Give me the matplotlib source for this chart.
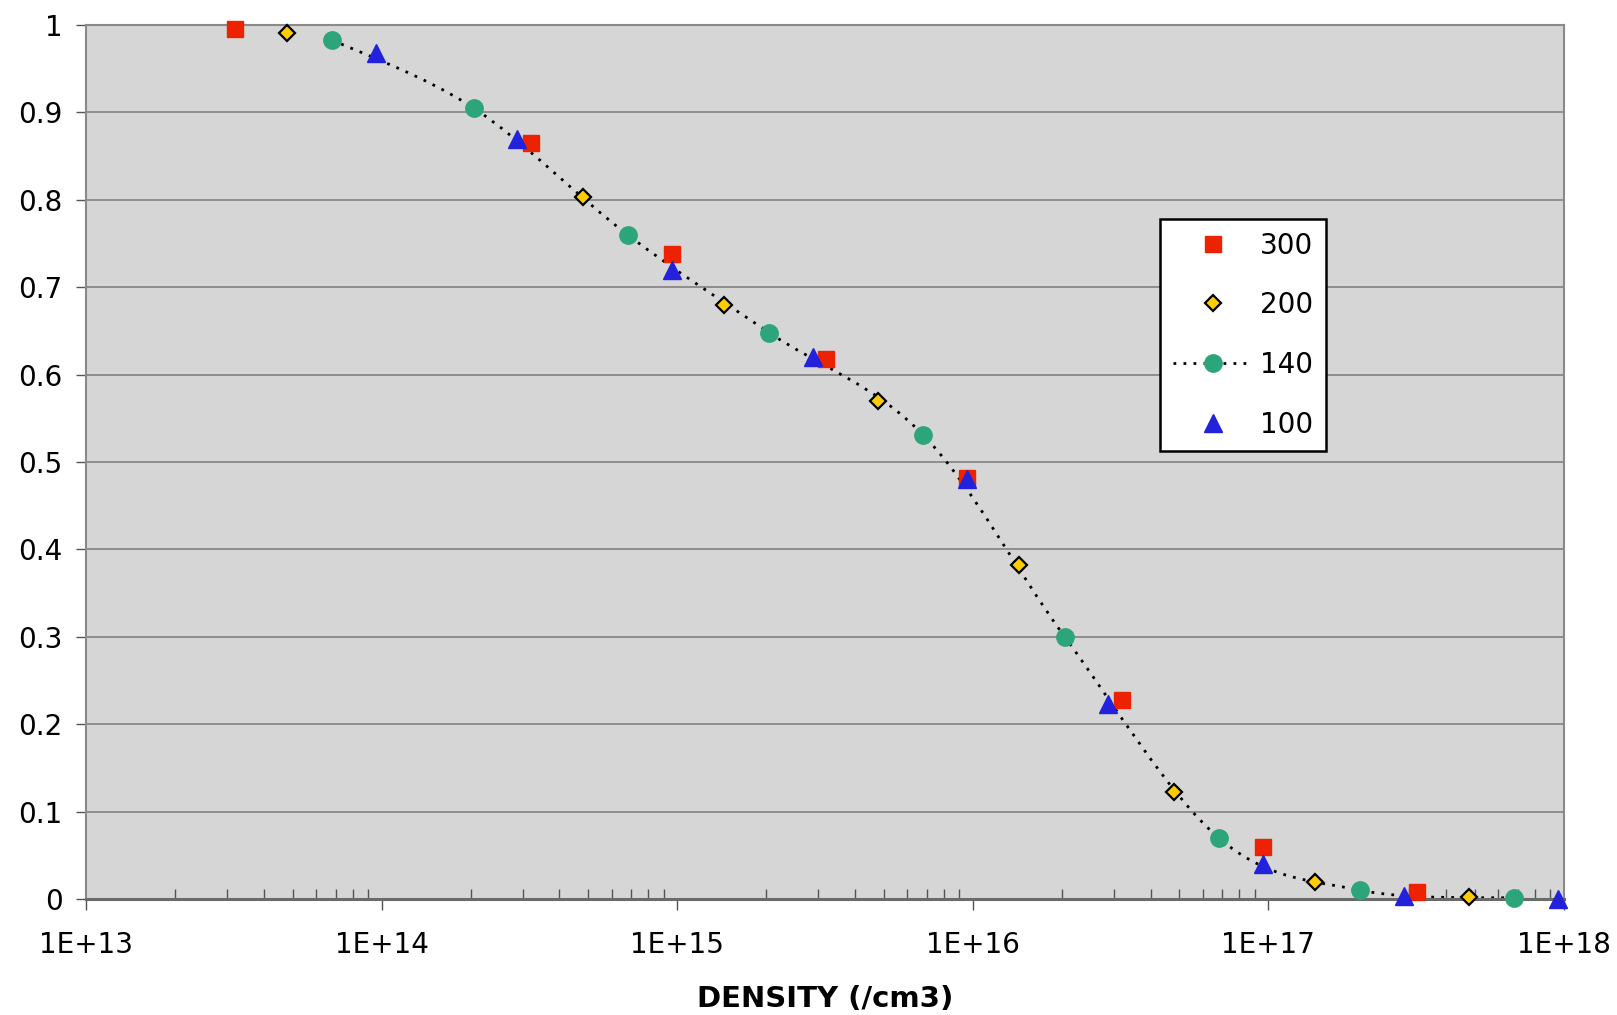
import matplotlib
matplotlib.use("Agg")
import matplotlib.pyplot as plt
from matplotlib.path import Path
from matplotlib.patches import PathPatch
from matplotlib.lines import Line2D
from matplotlib.ticker import FixedLocator, FuncFormatter, LogLocator, NullFormatter
import numpy as np

# -----------------------------
# Data
# -----------------------------
labels = ["300", "200", "140", "100"]

x_300 = [3.2e13, 3.2e14, 9.6e14, 3.2e15, 9.6e15, 3.2e16, 9.6e16, 3.2e17]
y_300 = [0.995, 0.865, 0.738, 0.618, 0.482, 0.228, 0.060, 0.008]

x_200 = [4.8e13, 4.8e14, 1.44e15, 4.8e15, 1.44e16, 4.8e16, 1.44e17, 4.8e17]
y_200 = [0.991, 0.803, 0.680, 0.570, 0.382, 0.122, 0.020, 0.002]

x_140 = [6.8e13, 2.05e14, 6.8e14, 2.05e15, 6.8e15, 2.05e16, 6.8e16, 2.05e17, 6.8e17]
y_140 = [0.983, 0.905, 0.760, 0.648, 0.531, 0.300, 0.070, 0.010, 0.001]

x_100 = [9.6e13, 2.88e14, 9.6e14, 2.88e15, 9.6e15, 2.88e16, 9.6e16, 2.88e17, 9.6e17]
y_100 = [0.968, 0.870, 0.720, 0.620, 0.480, 0.223, 0.040, 0.003, 0.000]

x_ticks = [1e13, 1e14, 1e15, 1e16, 1e17, 1e18]
y_ticks = [0, 0.1, 0.2, 0.3, 0.4, 0.5, 0.6, 0.7, 0.8, 0.9, 1]


def smooth_path(xs, ys):
    # Catmull-Rom -> cubic bezier in log-x space (like a "smoothed line")
    lx = np.log10(xs)
    ys = np.asarray(ys, dtype=float)
    n = len(lx)
    verts = [(xs[0], ys[0])]
    codes = [Path.MOVETO]
    for i in range(n - 1):
        p0 = (lx[max(i - 1, 0)], ys[max(i - 1, 0)])
        p1 = (lx[i], ys[i])
        p2 = (lx[i + 1], ys[i + 1])
        p3 = (lx[min(i + 2, n - 1)], ys[min(i + 2, n - 1)])
        c1 = (p1[0] + (p2[0] - p0[0]) / 6, p1[1] + (p2[1] - p0[1]) / 6)
        c2 = (p2[0] - (p3[0] - p1[0]) / 6, p2[1] - (p3[1] - p1[1]) / 6)
        for c in (c1, c2, p2):
            verts.append((10 ** c[0], c[1]))
            codes.append(Path.CURVE4)
    return Path(verts, codes)


plt.rcParams['font.family'] = ['DejaVu Sans']

fig = plt.figure(figsize=(16.17, 10.15), dpi=100)
ax = fig.add_axes([0.0532, 0.1143, 0.9138, 0.8611])
ax.set_facecolor("#d6d6d6")
ax.set_xscale("log")
ax.set_xlim(1e13, 1e18)
ax.set_ylim(0, 1)

# gridlines
ax.yaxis.grid(True, color="#7a7a7a", linewidth=1.1)
ax.set_axisbelow(True)

dot_style = (0, (1.0, 2.6))

# smoothed dotted line through 140 series
line_patch = PathPatch(smooth_path(x_140, y_140), facecolor="none",
                       edgecolor="black", linewidth=2.0, linestyle=dot_style, zorder=2)
ax.add_patch(line_patch)

ax.plot(x_300, y_300, linestyle="none", marker="s", markersize=12,
        color="#ec2200", markeredgecolor="#ec2200", zorder=3, clip_on=False)
ax.plot(x_200, y_200, linestyle="none", marker="D", markersize=8.5,
        markerfacecolor="#ffcc00", markeredgecolor="black", markeredgewidth=1.6,
        zorder=3, clip_on=False)
ax.plot(x_140, y_140, linestyle="none", marker="o", markersize=12.5,
        color="#2ca57a", zorder=3, clip_on=False)
ax.plot(x_100, y_100, linestyle="none", marker="^", markersize=13,
        color="#2222dd", zorder=4, clip_on=False)

# axes styling
for side in ["top", "right", "left"]:
    ax.spines[side].set_color("#8a8a8a")
    ax.spines[side].set_linewidth(1.5)
ax.spines["bottom"].set_color("#6a6a6a")
ax.spines["bottom"].set_linewidth(2.2)

ax.xaxis.set_major_locator(FixedLocator(x_ticks))
ax.xaxis.set_major_formatter(FuncFormatter(lambda v, _: "1E+%d" % int(round(np.log10(v)))))
ax.xaxis.set_minor_locator(LogLocator(base=10, subs=np.arange(2, 10), numticks=50))
ax.xaxis.set_minor_formatter(NullFormatter())
ax.yaxis.set_major_locator(FixedLocator(y_ticks))
ax.yaxis.set_major_formatter(FuncFormatter(lambda v, _: "%g" % v))

ax.tick_params(axis="x", which="major", direction="out", length=8, width=1,
               color="#555555", labelsize=20, pad=15)
ax.tick_params(axis="x", which="minor", direction="in", length=7, width=1,
               color="#555555")
ax.tick_params(axis="y", which="major", direction="out", length=7, width=1,
               color="#555555", labelsize=20, pad=10)

ax.set_xlabel("DENSITY (/cm3)", fontsize=21, fontweight="bold", labelpad=19)

# legend
handles = [
    Line2D([], [], linestyle="none", marker="s", markersize=12, color="#ec2200"),
    Line2D([], [], linestyle="none", marker="D", markersize=8.5,
           markerfacecolor="#ffcc00", markeredgecolor="black", markeredgewidth=1.6),
    Line2D([], [], linestyle=dot_style, linewidth=2.0, color="black", marker="o",
           markersize=12.5, markerfacecolor="#2ca57a", markeredgecolor="#2ca57a"),
    Line2D([], [], linestyle="none", marker="^", markersize=13, color="#2222dd"),
]
leg = ax.legend(handles, labels, loc="upper left", bbox_to_anchor=(0.727, 0.778),
                fontsize=20, frameon=True, fancybox=False, framealpha=1,
                edgecolor="black", facecolor="white", labelspacing=1.14,
                handlelength=2.9, handletextpad=0.25, borderpad=0.45,
                borderaxespad=0)
leg.get_frame().set_linewidth(1.8)

fig.savefig("out.png", dpi=100)
plt.close(fig)
